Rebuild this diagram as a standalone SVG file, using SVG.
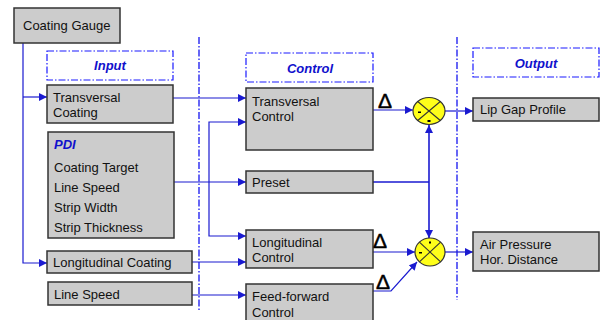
<svg xmlns="http://www.w3.org/2000/svg" width="600" height="320" viewBox="0 0 600 320">
<style>
.box{fill:#cccccc;stroke:#333333;stroke-width:1.5}
.t{font-family:"Liberation Sans",Arial,sans-serif;font-size:13px;fill:#111111}
.hdr{fill:none;stroke:#1a1aff;stroke-width:1.2;stroke-dasharray:7,2,1.5,2}
.ht{font-family:"Liberation Sans",Arial,sans-serif;font-size:13px;font-weight:bold;font-style:italic;fill:#1010cc;text-anchor:middle}
.sep{fill:none;stroke:#0000ee;stroke-width:1.2;stroke-dasharray:7,2,1.5,2}
.c{fill:none;stroke:#1a1ad0;stroke-width:1.2}
.sum{fill:#ffff1a;stroke:#333333;stroke-width:1.2}
.d{font-family:"Liberation Sans",sans-serif;font-size:21px;fill:#000;stroke:#000;stroke-width:0.5;text-anchor:middle}
</style>
<defs>
<marker id="a" viewBox="0 0 10 10" refX="10" refY="5" markerWidth="8" markerHeight="8" markerUnits="userSpaceOnUse" orient="auto">
<path d="M0,0 L10,5 L0,10 z" fill="#1a1ad0"/>
</marker>
</defs>
<rect width="600" height="320" fill="#ffffff"/>
<g id="separators">
<line class="sep" x1="199" y1="37" x2="199" y2="310"/>
<line class="sep" x1="457" y1="37" x2="457" y2="300"/>
</g>
<g id="connectors">
<polyline class="c" points="23,43 23,263 47,263" marker-end="url(#a)"/>
<line class="c" x1="23" y1="97" x2="47" y2="97" marker-end="url(#a)"/>
<line class="c" x1="173" y1="98" x2="246" y2="98" marker-end="url(#a)"/>
<line class="c" x1="174" y1="182" x2="246" y2="182" marker-end="url(#a)"/>
<polyline class="c" points="209,182 209,122 246,122" marker-end="url(#a)"/>
<polyline class="c" points="209,182 209,236 246,236" marker-end="url(#a)"/>
<line class="c" x1="192" y1="262" x2="246" y2="262" marker-end="url(#a)"/>
<line class="c" x1="192" y1="295" x2="246" y2="295" marker-end="url(#a)"/>
<line class="c" x1="373" y1="110" x2="413" y2="110" marker-end="url(#a)"/>
<line class="c" x1="373" y1="182" x2="429" y2="182" style="stroke-width:1.6"/>
<line class="c" x1="429" y1="182" x2="429" y2="125" style="stroke-width:1.6" marker-end="url(#a)"/>
<line class="c" x1="429" y1="182" x2="429" y2="238" style="stroke-width:1.6" marker-end="url(#a)"/>
<line class="c" x1="373" y1="252" x2="415" y2="252" marker-end="url(#a)"/>
<polyline class="c" points="373,291 391,291 417,262" marker-end="url(#a)"/>
<line class="c" x1="445" y1="111" x2="473" y2="111" marker-end="url(#a)"/>
<line class="c" x1="445" y1="252" x2="473" y2="252" marker-end="url(#a)"/>
</g>
<g id="coating-gauge">
<rect class="box" x="14" y="8" width="106" height="35"/>
<text class="t" x="23" y="30">Coating Gauge</text>
</g>
<g id="input-header">
<rect class="hdr" x="47" y="51" width="126" height="29"/>
<text class="ht" x="110" y="70">Input</text>
</g>
<g id="control-header">
<rect class="hdr" x="246" y="53" width="127" height="29"/>
<text class="ht" x="310" y="73">Control</text>
</g>
<g id="output-header">
<rect class="hdr" x="473" y="48" width="126" height="29"/>
<text class="ht" x="536" y="68">Output</text>
</g>
<g id="transversal-coating">
<rect class="box" x="47" y="85" width="126" height="38"/>
<text class="t" x="53" y="102">Transversal</text>
<text class="t" x="53" y="117">Coating</text>
</g>
<g id="pdi">
<rect class="box" x="48" y="132" width="126" height="106"/>
<text x="54" y="149" style="font-family:'Liberation Sans',Arial,sans-serif;font-size:13px;font-weight:bold;font-style:italic;fill:#1010cc">PDI</text>
<text class="t" x="54" y="172">Coating Target</text>
<text class="t" x="54" y="192">Line Speed</text>
<text class="t" x="54" y="212">Strip Width</text>
<text class="t" x="54" y="232">Strip Thickness</text>
</g>
<g id="longitudinal-coating">
<rect class="box" x="47" y="251" width="145" height="22"/>
<text class="t" x="53" y="267">Longitudinal Coating</text>
</g>
<g id="line-speed">
<rect class="box" x="48" y="282" width="144" height="23"/>
<text class="t" x="54" y="299">Line Speed</text>
</g>
<g id="transversal-control">
<rect class="box" x="246" y="88" width="127" height="62"/>
<text class="t" x="252" y="106">Transversal</text>
<text class="t" x="252" y="121">Control</text>
</g>
<g id="preset">
<rect class="box" x="246" y="171" width="127" height="22"/>
<text class="t" x="252" y="187">Preset</text>
</g>
<g id="longitudinal-control">
<rect class="box" x="246" y="230" width="127" height="38"/>
<text class="t" x="252" y="247">Longitudinal</text>
<text class="t" x="252" y="262">Control</text>
</g>
<g id="feedforward-control">
<rect class="box" x="246" y="284" width="127" height="40"/>
<text class="t" x="252" y="301">Feed-forward</text>
<text class="t" x="252" y="317">Control</text>
</g>
<g id="sum-upper">
<ellipse class="sum" cx="429" cy="111" rx="16" ry="13.5"/>
<line x1="417.7" y1="101.5" x2="440.3" y2="120.5" stroke="#333" stroke-width="1.1"/>
<line x1="440.3" y1="101.5" x2="417.7" y2="120.5" stroke="#333" stroke-width="1.1"/>
<rect x="418" y="111.5" width="3" height="1.5" fill="#000"/>
<rect x="427.5" y="120" width="3" height="2" fill="#000"/>
</g>
<g id="sum-lower">
<ellipse class="sum" cx="430" cy="252" rx="15" ry="14"/>
<line x1="419.4" y1="242.1" x2="440.6" y2="261.9" stroke="#333" stroke-width="1.1"/>
<line x1="440.6" y1="242.1" x2="419.4" y2="261.9" stroke="#333" stroke-width="1.1"/>
<rect x="429" y="241.5" width="2" height="2" fill="#000"/>
<rect x="419" y="252" width="3" height="1.5" fill="#000"/>
</g>
<g id="lip-gap-profile">
<rect class="box" x="473" y="98" width="126" height="23"/>
<text class="t" x="480" y="114">Lip Gap Profile</text>
</g>
<g id="air-pressure">
<rect class="box" x="473" y="232" width="126" height="39"/>
<text class="t" x="480" y="249">Air Pressure</text>
<text class="t" x="480" y="264">Hor. Distance</text>
</g>
<g id="deltas">
<text class="d" x="385" y="108" font-size="21">Δ</text>
<text class="d" x="380" y="248" font-size="21">Δ</text>
<text class="d" x="383" y="289" font-size="21">Δ</text>
</g>
</svg>
